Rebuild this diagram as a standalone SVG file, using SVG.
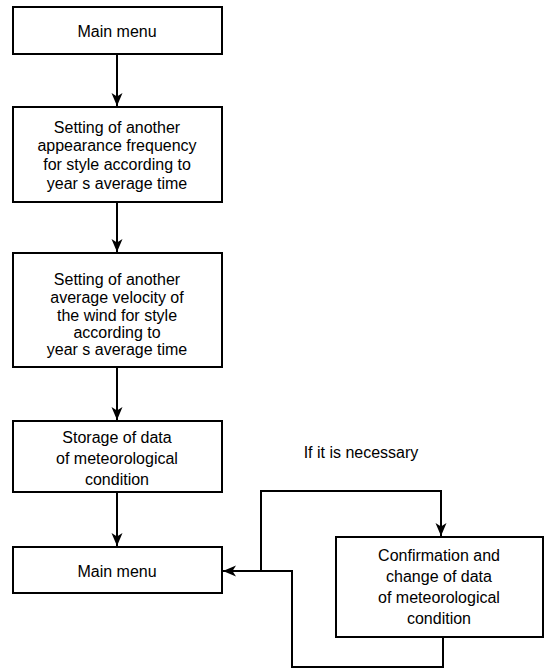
<svg xmlns="http://www.w3.org/2000/svg" width="545" height="669" viewBox="0 0 545 669">
  <defs>
    <style>
      .box { fill: #ffffff; stroke: #000000; stroke-width: 2; }
      .lbl { font-family: "Liberation Sans", Arial, sans-serif; font-size: 16px; fill: #000000; text-anchor: middle; dominant-baseline: central; }
      .edge { fill: none; stroke: #000000; stroke-width: 2; }
    </style>
    <marker id="arrow" markerWidth="14" markerHeight="14" viewBox="0 0 14 14" refX="13" refY="7" orient="auto" markerUnits="userSpaceOnUse">
      <path d="M0,1.5 L13,7 L0,12.5 L3.5,7 Z" fill="#000000"/>
    </marker>
  </defs>
  <rect width="545" height="669" fill="#ffffff"/>

  <g id="connectors">
    <line class="edge" x1="117" y1="54" x2="117" y2="106" marker-end="url(#arrow)"/>
    <line class="edge" x1="117" y1="202" x2="117" y2="252" marker-end="url(#arrow)"/>
    <line class="edge" x1="117" y1="367" x2="117" y2="420" marker-end="url(#arrow)"/>
    <line class="edge" x1="117" y1="492" x2="117" y2="546" marker-end="url(#arrow)"/>
    <polyline class="edge" points="261,571 261,491 441,491 441,536" marker-end="url(#arrow)"/>
    <polyline class="edge" points="443,637 443,667 292,667 292,571 223,571" marker-end="url(#arrow)"/>
    <text class="lbl" x="361" y="452">If it is necessary</text>
  </g>

  <g id="main-menu-top">
    <rect class="box" x="13" y="7" width="209" height="47"/>
    <text class="lbl" x="117" y="31">Main menu</text>
  </g>

  <g id="appearance-frequency">
    <rect class="box" x="13" y="107" width="209" height="95"/>
    <text class="lbl" x="117" y="127">Setting of another</text>
    <text class="lbl" x="117" y="145">appearance frequency</text>
    <text class="lbl" x="117" y="164">for style according to</text>
    <text class="lbl" x="117" y="183">year s average time</text>
  </g>

  <g id="wind-velocity">
    <rect class="box" x="13" y="253" width="209" height="114"/>
    <text class="lbl" x="117" y="279">Setting of another</text>
    <text class="lbl" x="117" y="297">average velocity of</text>
    <text class="lbl" x="117" y="315">the wind for style</text>
    <text class="lbl" x="117" y="332">according to</text>
    <text class="lbl" x="117" y="349">year s average time</text>
  </g>

  <g id="storage">
    <rect class="box" x="13" y="421" width="209" height="71"/>
    <text class="lbl" x="117" y="437">Storage of data</text>
    <text class="lbl" x="117" y="458">of meteorological</text>
    <text class="lbl" x="117" y="479">condition</text>
  </g>

  <g id="main-menu-bottom">
    <rect class="box" x="13" y="547" width="209" height="46"/>
    <text class="lbl" x="117" y="571">Main menu</text>
  </g>

  <g id="confirmation">
    <rect class="box" x="336" y="537" width="207" height="100"/>
    <text class="lbl" x="439" y="555">Confirmation and</text>
    <text class="lbl" x="439" y="576">change of data</text>
    <text class="lbl" x="439" y="597">of meteorological</text>
    <text class="lbl" x="439" y="618">condition</text>
  </g>
</svg>
